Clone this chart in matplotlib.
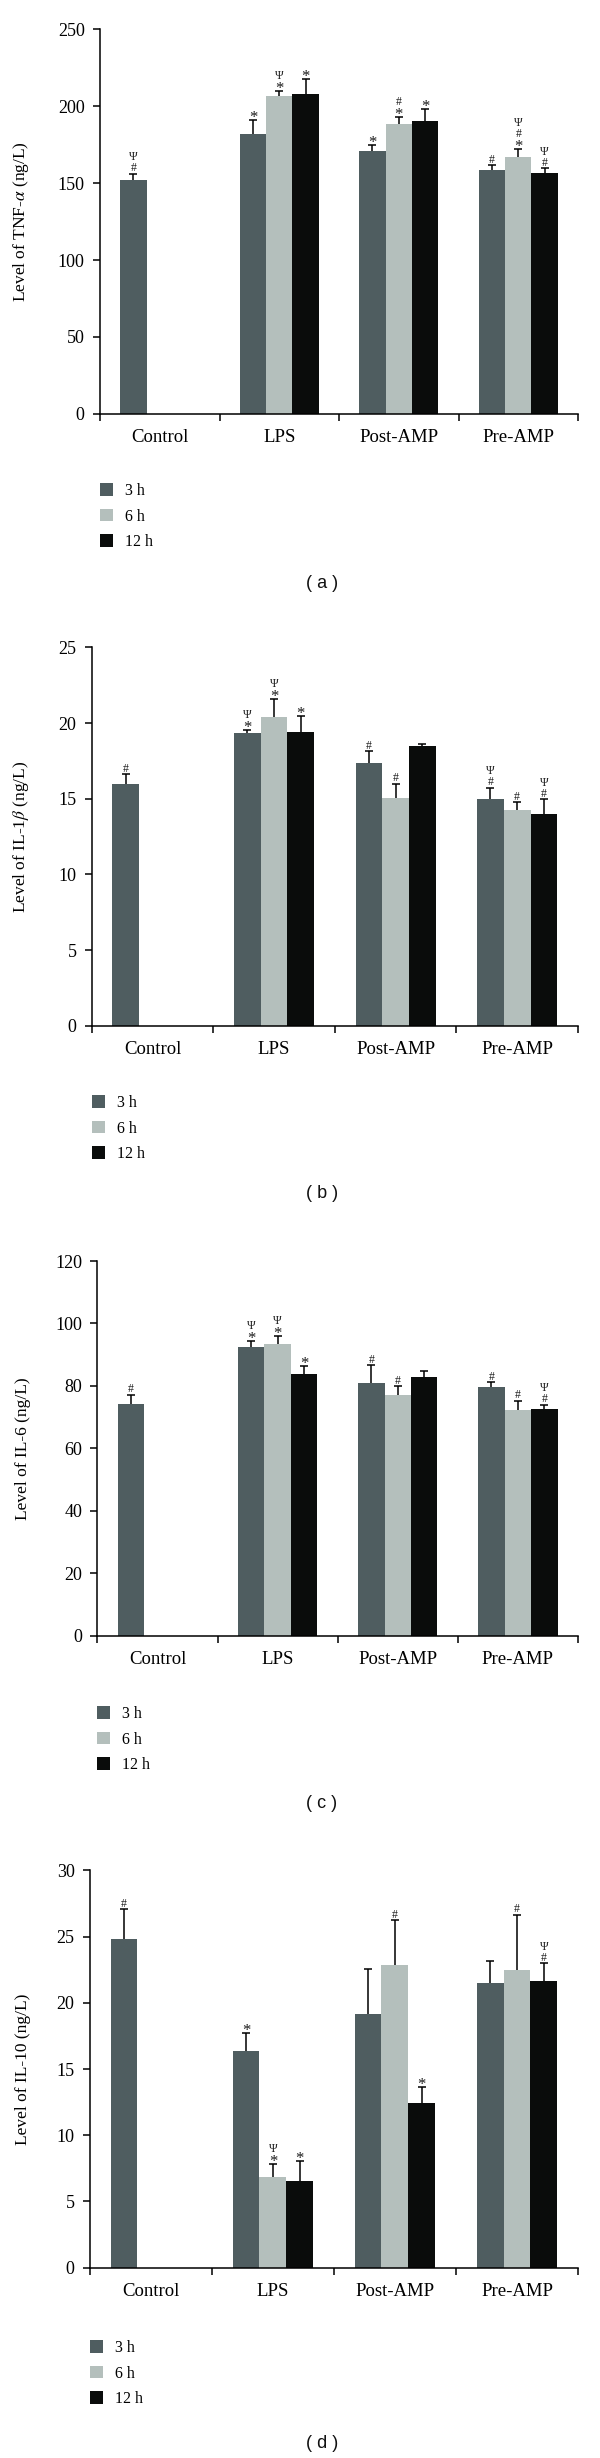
import numpy as np
import matplotlib
matplotlib.use('Agg')
import matplotlib.pyplot as plt
from matplotlib.patches import Patch

plt.rcParams['font.family'] = ['Liberation Serif', 'DejaVu Serif']
plt.rcParams['mathtext.fontset'] = 'stix'

NaN = np.nan

# ---------------- data ----------------
categories = ['Control', 'LPS', 'Post-AMP', 'Pre-AMP']
series_labels = ['3 h', '6 h', '12 h']
series_colors = ['#4f5d60', '#b4bfbc', '#0a0c0b']

# (a) TNF-alpha
tnf_3h = [152.3, 181.9, 170.7, 158.8]
tnf_6h = [NaN, 206.8, 188.6, 167.0]
tnf_12h = [NaN, 208.3, 190.4, 156.6]
tnf_3h_err = [3.8, 9.2, 3.8, 2.7]
tnf_6h_err = [NaN, 3.2, 4.2, 5.2]
tnf_12h_err = [NaN, 9.7, 7.9, 3.2]
tnf_3h_sig = [['#', 'Ψ'], ['*'], ['*'], ['#']]
tnf_6h_sig = [[], ['*', 'Ψ'], ['*', '#'], ['*', '#', 'Ψ']]
tnf_12h_sig = [[], ['*'], ['*'], ['#', 'Ψ']]

# (b) IL-1beta
il1_3h = [15.96, 19.32, 17.37, 15.0]
il1_6h = [NaN, 20.40, 15.03, 14.27]
il1_12h = [NaN, 19.44, 18.46, 13.99]
il1_3h_err = [0.68, 0.23, 0.79, 0.73]
il1_6h_err = [NaN, 1.17, 0.97, 0.50]
il1_12h_err = [NaN, 1.04, 0.18, 0.98]
il1_3h_sig = [['#'], ['*', 'Ψ'], ['#'], ['#', 'Ψ']]
il1_6h_sig = [[], ['*', 'Ψ'], ['#'], ['#']]
il1_12h_sig = [[], ['*'], [], ['#', 'Ψ']]

# (c) IL-6
il6_3h = [74.3, 92.4, 80.8, 79.6]
il6_6h = [NaN, 93.3, 77.0, 72.2]
il6_12h = [NaN, 83.9, 82.7, 72.7]
il6_3h_err = [2.8, 2.0, 5.8, 1.5]
il6_6h_err = [NaN, 2.6, 2.8, 3.1]
il6_12h_err = [NaN, 2.5, 2.2, 1.3]
il6_3h_sig = [['#'], ['*', 'Ψ'], ['#'], ['#']]
il6_6h_sig = [[], ['*', 'Ψ'], ['#'], ['#']]
il6_12h_sig = [[], ['*'], [], ['#', 'Ψ']]

# (d) IL-10
il10_3h = [24.83, 16.35, 19.18, 21.46]
il10_6h = [NaN, 6.84, 22.82, 22.50]
il10_12h = [NaN, 6.55, 12.40, 21.66]
il10_3h_err = [2.23, 1.33, 3.40, 1.73]
il10_6h_err = [NaN, 0.98, 3.40, 4.15]
il10_12h_err = [NaN, 1.47, 1.27, 1.33]
il10_3h_sig = [['#'], ['*'], [], []]
il10_6h_sig = [[], ['*', 'Ψ'], ['#'], ['#']]
il10_12h_sig = [[], ['*'], ['*'], ['#', 'Ψ']]

panels = [
    dict(vals=[tnf_3h, tnf_6h, tnf_12h], errs=[tnf_3h_err, tnf_6h_err, tnf_12h_err],
         sigs=[tnf_3h_sig, tnf_6h_sig, tnf_12h_sig], yticks=[0, 50, 100, 150, 200, 250],
         ylabel=r'Level of TNF-$\alpha$ (ng/L)', caption='( a )',
         left=100, right=578, top=29.4, bottom=413.8, leg=491, cap=583.5),
    dict(vals=[il1_3h, il1_6h, il1_12h], errs=[il1_3h_err, il1_6h_err, il1_12h_err],
         sigs=[il1_3h_sig, il1_6h_sig, il1_12h_sig], yticks=[0, 5, 10, 15, 20, 25],
         ylabel=r'Level of IL-1$\beta$ (ng/L)', caption='( b )',
         left=91.7, right=578, top=647.5, bottom=1025.8, leg=1103, cap=1193),
    dict(vals=[il6_3h, il6_6h, il6_12h], errs=[il6_3h_err, il6_6h_err, il6_12h_err],
         sigs=[il6_3h_sig, il6_6h_sig, il6_12h_sig], yticks=[0, 20, 40, 60, 80, 100, 120],
         ylabel='Level of IL-6 (ng/L)', caption='( c )',
         left=97.4, right=578, top=1261, bottom=1635.5, leg=1714, cap=1803),
    dict(vals=[il10_3h, il10_6h, il10_12h], errs=[il10_3h_err, il10_6h_err, il10_12h_err],
         sigs=[il10_3h_sig, il10_6h_sig, il10_12h_sig], yticks=[0, 5, 10, 15, 20, 25, 30],
         ylabel='Level of IL-10 (ng/L)', caption='( d )',
         left=89.8, right=578, top=1870.3, bottom=2267.7, leg=2348, cap=2443.5),
]

W, H = 600, 2458
DPI = 100
fig = plt.figure(figsize=(W / DPI, H / DPI), dpi=DPI)

bar_w = 0.22
offsets = [-bar_w, 0.0, bar_w]
# glyph vertical extents (em) and sizes (pt) for significance marks
sym_ext = {'#': (0.0, 0.676), 'Ψ': (0.0, 0.662), '*': (0.265, 0.676)}
sym_size = {'#': 8.5, 'Ψ': 8.5, '*': 12.0}

for p in panels:
    ax = fig.add_axes([p['left'] / W, 1 - p['bottom'] / H,
                       (p['right'] - p['left']) / W, (p['bottom'] - p['top']) / H])
    x = np.arange(len(categories))
    handles = []
    for s in range(3):
        v = np.array(p['vals'][s], dtype=float)
        e = np.array(p['errs'][s], dtype=float)
        m = np.isfinite(v)
        xs = x[m] + offsets[s]
        ax.bar(xs, v[m], width=bar_w, color=series_colors[s], edgecolor='none',
               zorder=2)
        eb = ax.errorbar(xs, v[m], yerr=[np.zeros(m.sum()), e[m]], fmt='none',
                         ecolor='black', elinewidth=1.1, capsize=3.2, capthick=1.1,
                         zorder=3)
        eb.lines[1][0].set_visible(False)
        handles.append(Patch(facecolor=series_colors[s], edgecolor='none',
                             label=series_labels[s]))
        # significance marks
        for i in np.where(m)[0]:
            top = v[i] + e[i]
            cursor = 2.5
            for sym in p['sigs'][s][i]:
                fs_px = sym_size[sym] * DPI / 72.0
                lo, hi = sym_ext[sym]
                base = cursor - lo * fs_px
                ax.annotate(sym, (x[i] + offsets[s], top), xytext=(0, base),
                            textcoords='offset pixels', ha='center', va='baseline',
                            fontsize=sym_size[sym], color='#1a1a1a', zorder=4,
                            annotation_clip=False)
                cursor = base + hi * fs_px + 3.0

    ax.set_xlim(-0.5, len(categories) - 0.5)
    ax.set_ylim(0, p['yticks'][-1])
    ax.set_yticks(p['yticks'])
    ax.set_xticks(x)
    ax.set_xticklabels(categories, fontsize=13.5)
    ax.set_xticks(np.arange(-0.5, len(categories), 1.0), minor=True)
    ax.tick_params(axis='x', which='major', length=0, pad=11)
    ax.tick_params(axis='x', which='minor', length=5, width=1.1, direction='out')
    ax.tick_params(axis='y', length=5, width=1.1, direction='out', pad=6,
                   labelsize=13)
    for side in ['top', 'right']:
        ax.spines[side].set_visible(False)
    for side in ['left', 'bottom']:
        ax.spines[side].set_linewidth(1.1)
    ax.set_ylabel(p['ylabel'], fontsize=12.5)
    ax.yaxis.set_label_coords((31 - p['left']) / (p['right'] - p['left']), 0.5)

    leg = ax.legend(handles=handles, loc='upper left',
                    bbox_to_anchor=(p['left'] / W, 1 - (p['leg'] - 8) / H),
                    bbox_transform=fig.transFigure, frameon=False, fontsize=11.5,
                    borderpad=0, borderaxespad=0, handlelength=0.81,
                    handleheight=0.81, handletextpad=0.75, labelspacing=0.6)

    fig.text(322 / W, 1 - p['cap'] / H, p['caption'], ha='center', va='center',
             fontsize=13, family=['Liberation Sans', 'DejaVu Sans'], color='#111111')

fig.savefig('out.png', dpi=DPI, facecolor='white')
